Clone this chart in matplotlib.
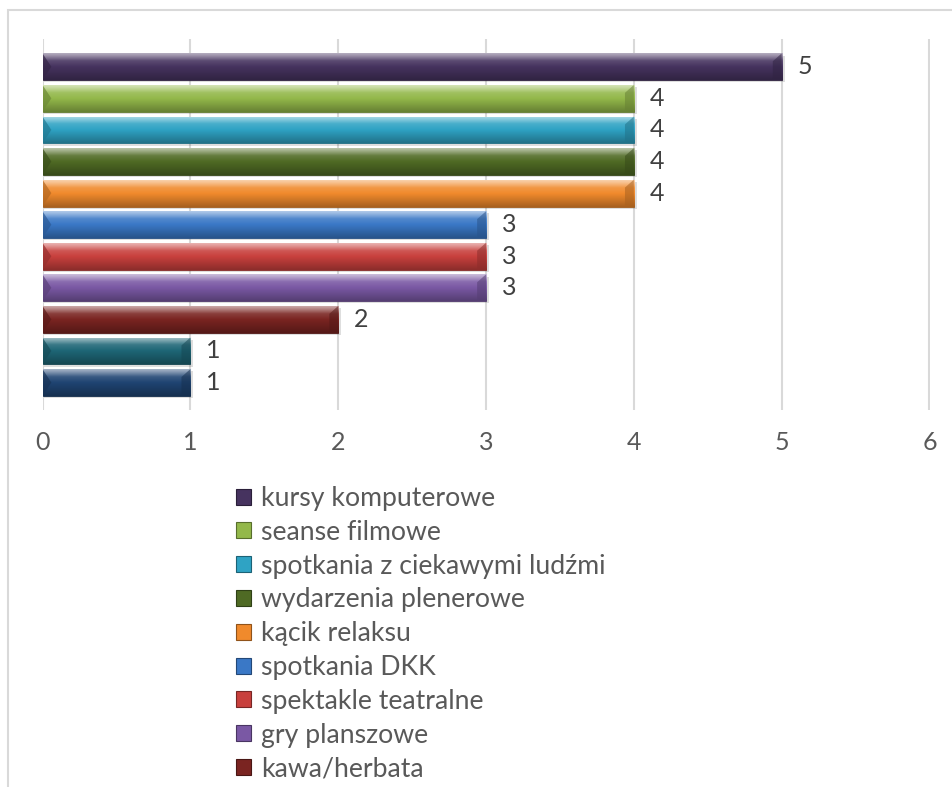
import numpy as np
import matplotlib
matplotlib.use("Agg")
import matplotlib.pyplot as plt
import matplotlib.colors as mcolors
from matplotlib.patches import Rectangle, Polygon, Patch

plt.rcParams['font.family'] = ['Lato', 'DejaVu Sans']

# data (top bar first); the last two legend entries are cut off in the source
labels = ['kursy komputerowe', 'seanse filmowe', 'spotkania z ciekawymi ludźmi',
          'wydarzenia plenerowe', 'kącik relaksu', 'spotkania DKK',
          'spektakle teatralne', 'gry planszowe', 'kawa/herbata']
values = [5, 4, 4, 4, 4, 3, 3, 3, 2, 1, 1]
colors = ['#46335F', '#93B84A', '#2FA3C4', '#4F6A24', '#F08A2C', '#3A78C6',
          '#C8403D', '#7A58A4', '#7A2421', '#1E6676', '#1F4472']
xticks = [0, 1, 2, 3, 4, 5, 6]

TEXT = '#595959'


def shade(c, f):
    c = np.array(mcolors.to_rgb(c))
    if f >= 0:
        return c + (1 - c) * f
    return c * (1 + f)


def bevel_bar(ax, y, w, color, h=0.85, d=0.06):
    top, bot = y - h / 2, y + h / 2
    # soft shadow
    ax.add_patch(Rectangle((0.01, top + 0.07), w + 0.01, h, facecolor='black',
                           alpha=0.13, edgecolor='none', zorder=2))
    bar = ax.barh(y, w, height=h, color=color, edgecolor=shade(color, -0.35),
                  linewidth=0.6, zorder=3)[0]
    stops = [(0.0, 0.6), (0.1, 0.45), (0.28, 0.12), (0.5, 0.0), (1.0, -0.3)]
    fr = np.linspace(0, 1, 60)
    grad = np.zeros((60, 1, 3))
    sx = [s[0] for s in stops]
    sf = [s[1] for s in stops]
    for k, f in enumerate(fr):
        grad[k, 0] = np.clip(shade(color, np.interp(f, sx, sf)), 0, 1)
    img = ax.imshow(grad, extent=(0, w, bot, top), aspect='auto', origin='upper',
                    interpolation='bilinear', zorder=3.1)
    img.set_clip_path(bar)
    # end bevels
    ax.add_patch(Polygon([(0, top), (d, y), (0, bot)], closed=True,
                         facecolor=shade(color, -0.25), edgecolor='none', alpha=0.7, zorder=3.2))
    ax.add_patch(Polygon([(w, top), (w - d, top + 0.25), (w - d, bot - 0.05), (w, bot)],
                         closed=True, facecolor=shade(color, -0.3), edgecolor='none',
                         alpha=0.55, zorder=3.2))


fig = plt.figure(figsize=(9.52, 7.87), dpi=100)
ax = fig.add_axes([42.5 / 952, 1 - 410 / 787, 887 / 952, 371 / 787])

ypos = np.arange(len(values))
for i, (v, c) in enumerate(zip(values, colors)):
    bevel_bar(ax, ypos[i], v, c)
    ax.text(v + 0.108, ypos[i], str(v), va='center', ha='left', fontsize=18,
            color='#404040', zorder=4)

ax.set_xlim(0, 6)
ax.set_ylim(len(values) - 1 + 0.87, -0.88)
ax.set_xticks(xticks)
ax.set_yticks([])
ax.xaxis.grid(True, color='#D9D9D9', linewidth=1.5, zorder=0)
ax.set_axisbelow(True)
for s in ax.spines.values():
    s.set_visible(False)
ax.tick_params(axis='x', length=0, pad=15, labelsize=18, labelcolor=TEXT)

# legend
handles = [Patch(facecolor=c, edgecolor=shade(c, -0.4), linewidth=0.8)
           for c in colors[:len(labels)]]
fig.legend(handles, labels, loc='upper left', bbox_to_anchor=(236 / 952, 1 - 486 / 787),
           frameon=False, fontsize=19.2, labelcolor=TEXT, handlelength=0.55,
           handleheight=0.55, handletextpad=0.4, labelspacing=0.33, borderpad=0,
           borderaxespad=0)

# outer chart border (clipped at right and bottom in the source)
fig.patches.append(Rectangle((8 / 952, -0.2), 2, 1.2 - 10 / 787, transform=fig.transFigure,
                             facecolor='none', edgecolor='#D9D9D9', linewidth=1.5))

fig.savefig('out.png', dpi=100)
